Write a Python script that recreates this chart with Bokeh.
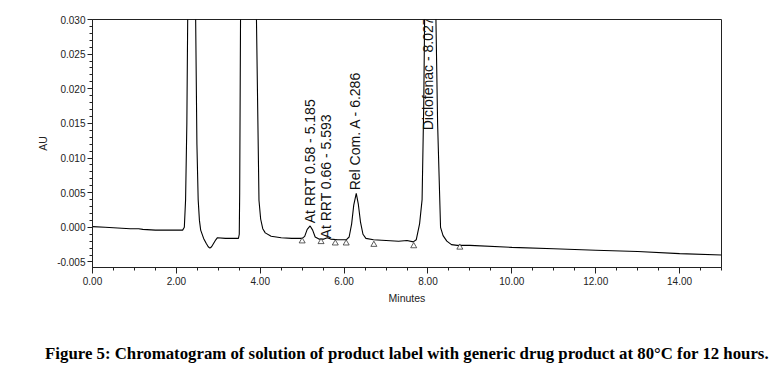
from bokeh.plotting import figure
from bokeh.models import (Range1d, SingleIntervalTicker, PrintfTickFormatter,
                          ColumnDataSource, LinearAxis, FixedTicker)
from bokeh.core.properties import value
from bokeh.embed import file_html
from bokeh.resources import INLINE

# ---- data (time in minutes, response in AU) ----
time_min = [0.00, 0.30, 0.60, 0.90, 1.10, 1.20, 1.50, 1.80, 2.00, 2.15,
            2.19, 2.22, 2.25, 2.27, 2.32, 2.41, 2.46, 2.49, 2.52, 2.55,
            2.58, 2.65, 2.71, 2.76, 2.80, 2.84, 2.89, 2.94, 2.98, 3.17,
            3.48, 3.50, 3.51, 3.53, 3.60, 3.85, 3.91, 3.97, 4.01, 4.06,
            4.12, 4.26, 4.50, 4.75, 5.00, 5.06, 5.12, 5.19, 5.25, 5.31,
            5.40, 5.52, 5.60, 5.68, 5.85, 6.05, 6.12, 6.18, 6.23, 6.29,
            6.34, 6.39, 6.45, 6.52, 6.70, 7.00, 7.30, 7.50, 7.65, 7.72,
            7.80, 7.86, 7.90, 7.92, 7.98, 8.12, 8.19, 8.23, 8.30, 8.36,
            8.45, 8.56, 8.70, 9.00, 10.00, 11.00, 12.00, 13.00, 14.00, 15.00]
au = [0.0001, 0.0000, -0.0001, -0.0002, -0.0002, -0.0003, -0.0004, -0.0004, -0.0004, -0.0004,
      0.0000, 0.0040, 0.0150, 0.0300, 0.0600, 0.0600, 0.0300, 0.0120, 0.0040, 0.0010,
      -0.0004, -0.0016, -0.0023, -0.0028, -0.0030, -0.0028, -0.0023, -0.0018, -0.0015, -0.0016,
      -0.0016, -0.0010, 0.0050, 0.0300, 0.0700, 0.0700, 0.0300, 0.0039, 0.0012, -0.0002,
      -0.0008, -0.0013, -0.0015, -0.0016, -0.0016, -0.0013, -0.0003, 0.0002, -0.0004, -0.0014,
      -0.0017, -0.0017, -0.0015, -0.0017, -0.0018, -0.0018, -0.0014, 0.0005, 0.0032, 0.0049,
      0.0033, 0.0008, -0.0010, -0.0016, -0.0018, -0.0019, -0.0020, -0.0019, -0.0021, -0.0018,
      0.0005, 0.0040, 0.0180, 0.0300, 0.0600, 0.0600, 0.0300, 0.0150, 0.0000, -0.0012,
      -0.0020, -0.0025, -0.0026, -0.0026, -0.0029, -0.0031, -0.0033, -0.0035, -0.0038, -0.0040]

# integration start/stop marks
mark_time = [5.00, 5.45, 5.79, 6.05, 6.71, 7.66, 8.76]
mark_au = [-0.0020, -0.0021, -0.0023, -0.0023, -0.0025, -0.0027, -0.0029]

# peak annotations
peak_names = ["At RRT 0.58 - 5.185", "At RRT 0.66 - 5.593",
              "Rel Com. A - 6.286", "Diclofenac - 8.027"]
peak_time = [5.18, 5.58, 6.26, 8.01]
peak_label_au = [0.00058, -0.0016, 0.00534, 0.0140]

x_ticks_interval = 2
y_ticks_interval = 0.005
caption = ("Figure 5: Chromatogram of solution of product label with generic "
           "drug product at 80°C for 12 hours.")

FONT = "Liberation Sans"

p = figure(width=773, height=372, output_backend="svg", toolbar_location=None,
           x_range=Range1d(0, 15), y_range=Range1d(-0.0058, 0.030),
           min_border_left=92, min_border_right=52, min_border_top=19,
           min_border_bottom=105)
p.background_fill_color = "white"
p.border_fill_color = "white"
p.outline_line_color = "#222222"
p.outline_line_width = 1
p.xgrid.visible = False
p.ygrid.visible = False

# x axis
xa = p.xaxis[0]
xa.ticker = SingleIntervalTicker(interval=x_ticks_interval, num_minor_ticks=4)
xa.formatter = PrintfTickFormatter(format="%.2f")
xa.axis_label = "Minutes"
# y axis
ya = p.yaxis[0]
ya.ticker = SingleIntervalTicker(interval=y_ticks_interval, num_minor_ticks=5)
ya.formatter = PrintfTickFormatter(format="%.3f")
ya.axis_label = "AU"

for ax in (xa, ya):
    ax.axis_line_color = "#222222"
    ax.major_tick_line_color = "#222222"
    ax.minor_tick_line_color = "#222222"
    ax.major_tick_in = 0
    ax.minor_tick_in = 0
    ax.major_label_text_font = FONT
    ax.major_label_text_font_size = "10px"
    ax.major_label_text_color = "#222222"
    ax.axis_label_text_font = FONT
    ax.axis_label_text_font_size = "10.5px"
    ax.axis_label_text_font_style = "normal"
    ax.axis_label_text_color = "#222222"

xa.major_tick_out = 6
xa.minor_tick_out = 3
xa.major_label_standoff = 3
xa.axis_label_standoff = 4
ya.major_tick_out = 5
ya.minor_tick_out = 3
ya.major_label_standoff = 2
ya.axis_label_standoff = 5

trace = ColumnDataSource(dict(t=time_min, v=au))
p.line("t", "v", source=trace, line_color="black", line_width=1.1)

marks = ColumnDataSource(dict(t=mark_time, v=mark_au))
p.scatter("t", "v", source=marks, marker="triangle", size=6,
          fill_color="white", line_color="#333333", line_width=0.8)

labels = ColumnDataSource(dict(t=peak_time, v=peak_label_au, name=peak_names))
p.text("t", "v", text="name", source=labels, angle=1.5707963,
       text_align="left", text_baseline="middle",
       text_font=value(FONT), text_font_size="14px", text_color="#111111")

# figure caption, carried by a bare axis underneath the chart
cap_axis = LinearAxis(ticker=FixedTicker(ticks=[]), axis_label=caption,
                      axis_line_color=None, major_tick_line_color=None,
                      minor_tick_line_color=None, axis_label_standoff=37,
                      axis_label_text_font="Liberation Serif",
                      axis_label_text_font_size="16.8px",
                      axis_label_text_font_style="bold",
                      axis_label_text_color="black")
p.add_layout(cap_axis, "below")

open("out.html", "w").write(file_html(p, INLINE))
